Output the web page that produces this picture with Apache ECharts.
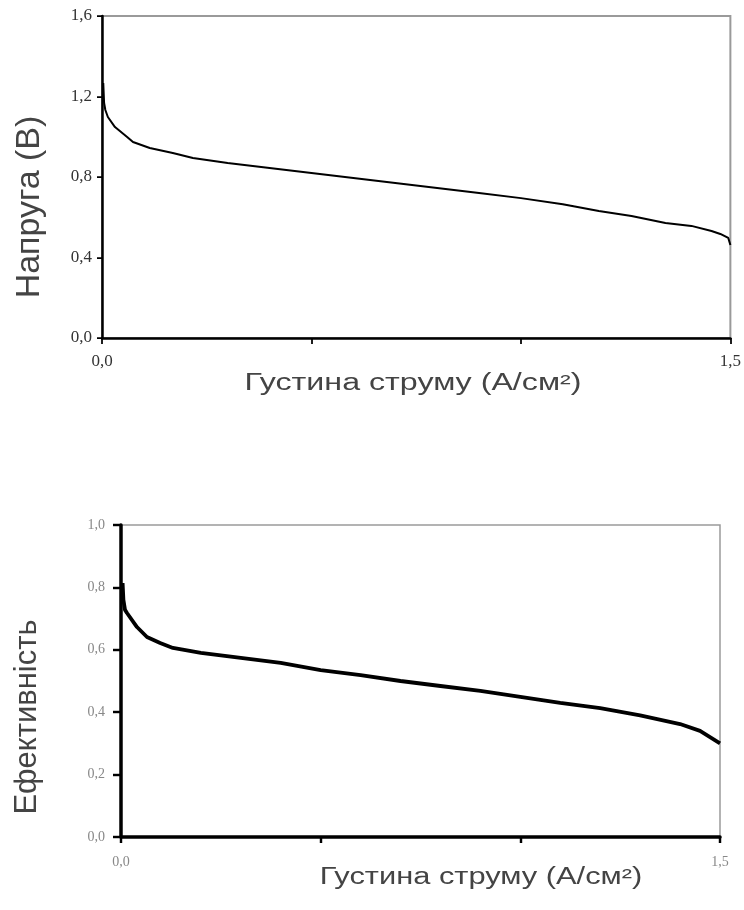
<!DOCTYPE html>
<html>
<head>
<meta charset="utf-8">
<script src="https://cdn.jsdelivr.net/npm/echarts@6/dist/echarts.min.js"></script>
<style>
  html, body { margin: 0; padding: 0; background: #fff; }
  #chart { width: 744px; height: 910px; }
</style>
</head>
<body>
<div id="chart"></div>
<script>
// Polarisation curve: current density (A/cm²) vs cell voltage (V)
const voltageX = [0.003, 0.005, 0.008, 0.014, 0.031, 0.06, 0.074, 0.114, 0.169, 0.217,
  0.3, 0.4, 0.5, 0.6, 0.7, 0.8, 0.9, 1.0, 1.1, 1.186, 1.264, 1.345, 1.407, 1.455, 1.476, 1.495, 1.5];
const voltageY = [1.267, 1.168, 1.133, 1.098, 1.048, 0.999, 0.974, 0.944, 0.919, 0.894,
  0.87, 0.845, 0.82, 0.795, 0.77, 0.745, 0.72, 0.695, 0.665, 0.631, 0.606, 0.571, 0.557, 0.532, 0.517, 0.497, 0.462];

// Efficiency vs current density
const effX = [0.004, 0.006, 0.01, 0.015, 0.04, 0.065, 0.098, 0.13, 0.2, 0.3, 0.4, 0.5, 0.6,
  0.7, 0.8, 0.9, 1.0, 1.1, 1.2, 1.3, 1.4, 1.45, 1.5];
const effY = [0.814, 0.76, 0.728, 0.718, 0.673, 0.641, 0.622, 0.606, 0.59, 0.574, 0.558, 0.535, 0.519,
  0.5, 0.484, 0.468, 0.449, 0.43, 0.413, 0.39, 0.362, 0.34, 0.30];

const xTickLabels = { 0: '0,0', 1.5: '1,5' };

const xTitle = 'Густина струму (А/см²)';
const voltageTitle = 'Напруга (В)';
const effTitle = 'Ефективність';

const pairs = (xs, ys) => xs.map((x, i) => [x, ys[i]]);
const comma = v => v.toFixed(1).replace('.', ',');

const chart = echarts.init(document.getElementById('chart'));

function xAxisFor(gridIndex, color, size, lineW, margin) {
  return {
    type: 'value', gridIndex, min: 0, max: 1.5, interval: 0.5,
    axisLine: { show: true, onZero: false, lineStyle: { color: '#000', width: lineW } },
    axisTick: { show: true, length: 6, lineStyle: { color: '#000', width: lineW * 0.7 } },
    axisLabel: {
      margin, color, fontFamily: 'Liberation Serif', fontSize: size,
      formatter: v => (xTickLabels[v] !== undefined ? xTickLabels[v] : ''),
      showMinLabel: true, showMaxLabel: true
    },
    splitLine: { show: false }
  };
}

function yAxisFor(gridIndex, max, interval, color, size, lineW, margin, tickLen) {
  return {
    type: 'value', gridIndex, min: 0, max, interval,
    axisLine: { show: true, onZero: false, lineStyle: { color: '#000', width: lineW } },
    axisTick: { show: true, length: tickLen, lineStyle: { color: '#000', width: lineW * 0.7 } },
    axisLabel: { margin, color, fontFamily: 'Liberation Serif', fontSize: size, formatter: comma },
    splitLine: { show: false }
  };
}

chart.setOption({
  animation: false,
  backgroundColor: '#fff',
  grid: [
    { left: 102, top: 16, width: 630, height: 322, show: true, borderColor: '#9a9a9a', borderWidth: 2, backgroundColor: 'transparent' },
    { left: 121, top: 525, width: 599, height: 312, show: true, borderColor: '#9a9a9a', borderWidth: 1.5, backgroundColor: 'transparent' }
  ],
  xAxis: [
    xAxisFor(0, '#333', 17, 2.5, 15),
    xAxisFor(1, '#888', 14, 3.5, 18)
  ],
  yAxis: [
    yAxisFor(0, 1.6, 0.4, '#333', 17, 2.5, 10, 5),
    yAxisFor(1, 1.0, 0.2, '#888', 14, 3.5, 16, 8)
  ],
  series: [
    {
      type: 'line', xAxisIndex: 0, yAxisIndex: 0, data: pairs(voltageX, voltageY),
      showSymbol: false, lineStyle: { color: '#000', width: 2 }
    },
    {
      type: 'line', xAxisIndex: 1, yAxisIndex: 1, data: pairs(effX, effY),
      showSymbol: false, lineStyle: { color: '#000', width: 3.8 }
    }
  ],
  graphic: [
    {
      type: 'text', x: 30, y: 207, rotation: Math.PI / 2,
      style: { text: voltageTitle, x: 0, y: 0, align: 'center', verticalAlign: 'middle',
        font: '34px "Liberation Sans"', fill: '#444' }
    },
    {
      type: 'text', x: 413, y: 384, scaleX: 1.4,
      style: { text: xTitle, x: 0, y: 0, align: 'center', verticalAlign: 'middle',
        font: '23px "Liberation Sans"', fill: '#444' }
    },
    {
      type: 'text', x: 27, y: 717, rotation: Math.PI / 2,
      style: { text: effTitle, x: 0, y: 0, align: 'center', verticalAlign: 'middle',
        font: '31px "Liberation Sans"', fill: '#444' }
    },
    {
      type: 'text', x: 481, y: 878, scaleX: 1.34,
      style: { text: xTitle, x: 0, y: 0, align: 'center', verticalAlign: 'middle',
        font: '23px "Liberation Sans"', fill: '#444' }
    }
  ]
});
</script>
</body>
</html>
